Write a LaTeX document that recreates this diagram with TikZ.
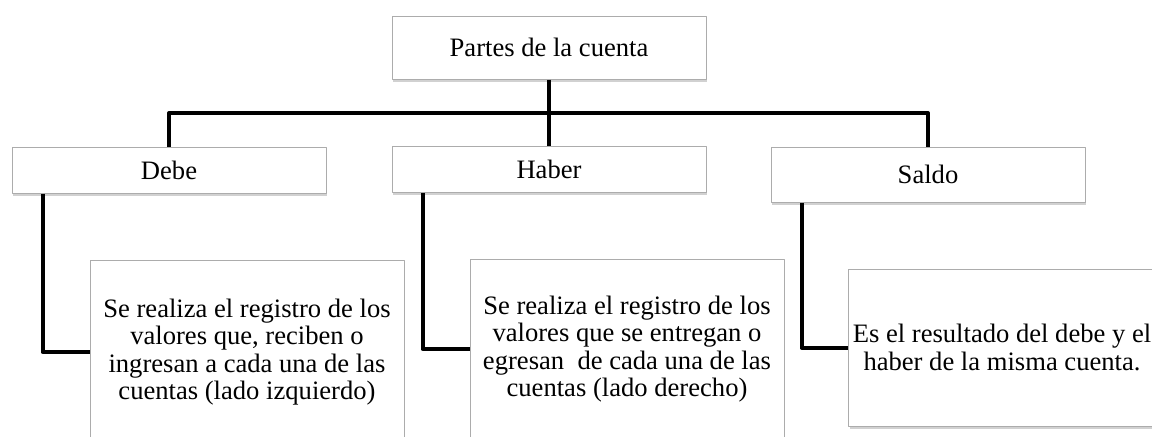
\documentclass[tikz,border=0pt]{standalone}
\usepackage{fontspec}
\setmainfont{Liberation Serif}
\usetikzlibrary{shadows}
\begin{document}
\begin{tikzpicture}[x=0.5pt,y=-0.5pt, line join=round, font=\fontsize{13.3}{13.8}\selectfont]
		\tikzset{part box/.style={draw=gray!65, line width=0.5pt, fill=white, minimum width=157pt, align=center, inner sep=2pt,
				drop shadow={shadow xshift=0.6pt, shadow yshift=-1.3pt, opacity=0.3, fill=black!60}},
			link/.style={line width=2pt}}
		\def \drop{15.5pt}
		\useasboundingbox (0,0) rectangle (1152,436);
		\clip (0,0) rectangle (1152,436);
		\node[part box, minimum height=31.5pt] (partes) at (549,47.5) {Partes de la cuenta};
		\node[part box, minimum height=23pt] (debe) at (169,170) {Debe};
		\node[part box, minimum height=23pt] (haber) at (549,169) {Haber};
		\node[part box, minimum height=27.5pt] (saldo) at (928,174.5) {Saldo};
		\node[part box, minimum height=92pt] (regdebe) at (247,352) {Se realiza el registro de los\\valores que, reciben o\\ingresan a cada una de las\\cuentas (lado izquierdo)};
		\node[part box, minimum height=90pt] (reghaber) at (627,349) {Se realiza el registro de los\\valores que se entregan o\\egresan\ \ de cada una de las\\cuentas (lado derecho)};
		\node[part box, minimum width=152pt, minimum height=78.5pt] (regsaldo) at (1002,347.5) {Es el resultado del debe y el\\haber de la misma cuenta.};
		\coordinate (bar) at (549,113);
		\draw[link] (partes.south) -- (haber.north);
		\draw[link] (debe.north) -- (debe.north |- bar) -- (saldo.north |- bar) -- (saldo.north);
		\draw[link] ([xshift=\drop]debe.south west) |- (regdebe.west);
		\draw[link] ([xshift=\drop]haber.south west) |- (reghaber.west);
		\draw[link] ([xshift=\drop]saldo.south west) |- (regsaldo.west);
\end{tikzpicture}
\end{document}
